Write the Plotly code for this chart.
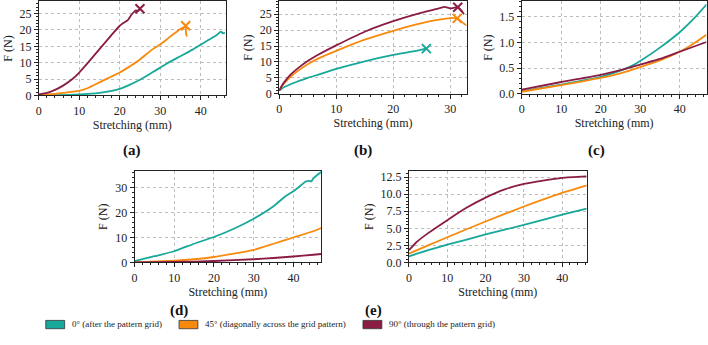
import plotly.graph_objects as go

# ---------------- data ----------------
series_names = ["0° (after the pattern grid)",
                "45° (diagonally across the grid pattern)",
                "90° (through the pattern grid)"]
series_colors = ["#17A89A", "#F7890C", "#8A1C46"]
panel_labels = ["(a)", "(b)", "(c)", "(d)", "(e)"]

# panel (a)
a_teal_x = [0, 5, 10, 13, 15, 18, 20, 22, 25, 28, 30, 32, 35, 38, 40, 42, 44, 45, 45.5, 46]
a_teal_y = [0, 0.1, 0.3, 0.55, 0.8, 1.4, 2.0, 3.0, 4.8, 7.0, 8.5, 10.0, 12.0, 14.0, 15.5, 17.0, 18.5, 19.5, 19.0, 19.2]
a_orange_x = [0, 3, 6, 10, 12, 15, 18, 20, 22, 25, 28, 30, 32, 34, 35, 36, 36.3, 36.4, 36.6]
a_orange_y = [0.2, 0.4, 0.8, 1.4, 2.2, 4.0, 5.8, 7.0, 8.5, 11.0, 14.0, 15.6, 17.5, 19.4, 20.3, 20.9, 21.3, 19.0, 18.0]
a_purple_x = [0, 2, 4, 6, 8, 10, 12, 14, 16, 18, 20, 21, 22, 23, 24, 24.5, 25]
a_purple_y = [0.3, 0.8, 1.7, 3.0, 4.7, 7.0, 9.8, 12.7, 15.6, 18.5, 21.3, 22.2, 23.0, 24.8, 26.0, 25.8, 26.5]
a_break_x = [None, 36.3, 25]
a_break_y = [None, 21.3, 26.5]

# panel (b)
b_teal_x = [0, 0.5, 1, 2, 3, 5, 7, 10, 15, 20, 24, 25.8]
b_teal_y = [1.0, 1.7, 2.2, 3.0, 3.7, 5.0, 6.1, 7.8, 10.2, 12.2, 13.5, 14.2]
b_orange_x = [0, 0.5, 1, 2, 3, 5, 7, 10, 15, 20, 25, 28, 30, 31.2, 32.0, 32.8]
b_orange_y = [1.0, 2.4, 3.5, 5.3, 6.8, 9.3, 11.2, 13.5, 17.0, 19.8, 22.2, 23.3, 23.8, 23.7, 22.6, 21.5]
b_purple_x = [0, 0.5, 1, 2, 3, 5, 7, 10, 15, 20, 25, 28, 29, 30, 31.3, 32.0, 32.4]
b_purple_y = [1.0, 2.6, 3.9, 6.0, 7.6, 10.3, 12.4, 15.2, 19.5, 22.8, 25.5, 26.8, 27.3, 26.8, 27.2, 26.0, 25.0]
b_break_x = [25.8, 31.2, 31.3]
b_break_y = [14.2, 23.7, 27.2]

# panel (c)
c_teal_x = [0, 10, 20, 25, 28, 30, 35, 40, 44, 46.8]
c_teal_y = [0.05, 0.18, 0.33, 0.45, 0.55, 0.64, 0.90, 1.20, 1.50, 1.74]
c_orange_x = [0, 10, 20, 25, 30, 35, 40, 43, 46.8]
c_orange_y = [0.04, 0.17, 0.31, 0.40, 0.52, 0.65, 0.82, 0.95, 1.15]
c_purple_x = [0, 10, 20, 26, 30, 35, 40, 46.8]
c_purple_y = [0.08, 0.23, 0.37, 0.48, 0.57, 0.68, 0.82, 1.01]

# panel (d)
d_teal_x = [0, 5, 10, 15, 20, 25, 30, 35, 38, 40, 42, 43, 44, 44.5, 45, 46, 47]
d_teal_y = [0.5, 2.5, 4.5, 7.5, 10.2, 13.5, 17.5, 22.5, 26.5, 28.5, 31.0, 32.3, 32.6, 32.4, 33.6, 35.0, 36.2]
d_orange_x = [0, 10, 15, 20, 25, 30, 35, 40, 45, 47]
d_orange_y = [0, 0.7, 1.3, 2.2, 3.5, 5.0, 7.5, 10.0, 12.5, 13.8]
d_purple_x = [0, 10, 20, 30, 35, 40, 45, 47]
d_purple_y = [0, 0.2, 0.6, 1.3, 1.8, 2.4, 3.1, 3.4]

# panel (e)
e_teal_x = [0, 5, 10, 20, 30, 40, 46.4]
e_teal_y = [0.9, 1.8, 2.6, 4.1, 5.5, 7.0, 7.9]
e_orange_x = [0, 5, 10, 20, 30, 40, 46.4]
e_orange_y = [1.3, 2.5, 3.7, 6.0, 8.2, 10.2, 11.3]
e_purple_x = [0, 2, 5, 10, 15, 20, 25, 30, 35, 40, 46.4]
e_purple_y = [1.8, 3.0, 4.3, 6.2, 8.0, 9.5, 10.7, 11.5, 12.0, 12.4, 12.6]

# axis settings per panel
x_ranges = [[0, 46.2], [0, 32.9], [0, 46.8], [0, 47], [0, 46.4]]
y_ranges = [[0, 28.7], [0, 29.0], [0, 1.8], [0, 36.6], [0, 13.4]]
y_dticks = [5, 5, 0.5, 10, 2.5]
y_minor = [1, 1, 0.1, 2, 0.5]
y_formats = ["d", "d", ".1f", "d", ".1f"]

# ---------------- figure ----------------
W, H = 708, 345
FONT = "Liberation Serif"

# plot-area boxes in pixels: left, right, top, bottom
boxes = [(36, 224, 0.5, 96.7), (277.7, 466.5, 0.5, 95.0), (521.7, 707.5, 0.5, 95.0),
         (132.3, 320, 174, 267.7), (408.3, 587, 174, 267.7)]
# bottom edge of each panel label (px)
label_pos = [(130, 163), (362, 163), (597, 163), (177, 327), (373, 327)]

panels = [
    [(a_teal_x, a_teal_y), (a_orange_x, a_orange_y), (a_purple_x, a_purple_y)],
    [(b_teal_x, b_teal_y), (b_orange_x, b_orange_y), (b_purple_x, b_purple_y)],
    [(c_teal_x, c_teal_y), (c_orange_x, c_orange_y), (c_purple_x, c_purple_y)],
    [(d_teal_x, d_teal_y), (d_orange_x, d_orange_y), (d_purple_x, d_purple_y)],
    [(e_teal_x, e_teal_y), (e_orange_x, e_orange_y), (e_purple_x, e_purple_y)],
]
breaks = {0: (a_break_x, a_break_y), 1: (b_break_x, b_break_y)}

fig = go.Figure()
layout = dict(width=W, height=H, margin=dict(l=0, r=0, t=0, b=0),
              paper_bgcolor="white", plot_bgcolor="white", showlegend=False,
              font=dict(family=FONT, size=12, color="#222"))
annotations = []
shapes = []

for i, (series, box) in enumerate(zip(panels, boxes)):
    n = "" if i == 0 else str(i + 1)
    xa, ya = "x" + n, "y" + n
    for (xs, ys), col in zip(series, series_colors):
        fig.add_trace(go.Scatter(x=xs, y=ys, mode="lines", xaxis=xa, yaxis=ya,
                                 line=dict(color=col, width=1.8, shape="spline", smoothing=0.5),
                                 hoverinfo="skip"))
    if i in breaks:
        bx, by = breaks[i]
        for xv, yv, col in zip(bx, by, series_colors):
            if xv is None:
                continue
            fig.add_trace(go.Scatter(x=[xv], y=[yv], mode="markers", xaxis=xa, yaxis=ya,
                                     marker=dict(symbol="x-thin", size=9, color=col,
                                                 line=dict(width=2, color=col)),
                                     hoverinfo="skip", cliponaxis=False))
    l, r, t, b = box
    common = dict(showline=True, linecolor="#222", linewidth=1, mirror=True,
                  showgrid=True, gridcolor="#bdbdbd", griddash="dot", gridwidth=1,
                  zeroline=False, ticks="outside", ticklen=4, tickcolor="#222",
                  tickfont=dict(family=FONT, size=12, color="#222"))
    layout["xaxis" + n] = dict(common, domain=[l / W, r / W], anchor=ya,
                               range=x_ranges[i], dtick=10, tick0=0,
                               minor=dict(dtick=2, ticks="outside", ticklen=2, tickcolor="#222", showgrid=False),
                               title=dict(text="Stretching (mm)", standoff=3,
                                          font=dict(family=FONT, size=12, color="#222")))
    layout["yaxis" + n] = dict(common, domain=[1 - b / H, 1 - t / H], anchor=xa,
                               range=y_ranges[i], dtick=y_dticks[i], tick0=0,
                               tickformat=y_formats[i],
                               minor=dict(dtick=y_minor[i], ticks="outside", ticklen=2, tickcolor="#222", showgrid=False),
                               title=dict(text="F (N)", standoff=4,
                                          font=dict(family=FONT, size=12, color="#222")))
    lx, ly = label_pos[i]
    annotations.append(dict(text="<b>" + panel_labels[i] + "</b>", x=lx / W, y=1 - ly / H,
                            xref="paper", yref="paper", showarrow=False,
                            font=dict(family=FONT, size=15, color="#111"),
                            xanchor="center", yanchor="bottom", borderpad=0))

# custom legend
leg_swatch_x = [43, 177, 362]
for name, col, sx in zip(series_names, series_colors, leg_swatch_x):
    shapes.append(dict(type="rect", xref="paper", yref="paper",
                       x0=sx / W, x1=(sx + 19) / W, y0=1 - 335.5 / H, y1=1 - 327 / H,
                       fillcolor=col, line=dict(color="#333", width=0.8)))
    annotations.append(dict(text=name, x=(sx + 25) / W, y=1 - 337 / H, xref="paper", yref="paper",
                            showarrow=False, xanchor="left", yanchor="bottom", borderpad=0,
                            font=dict(family=FONT, size=9, color="#222")))

layout["annotations"] = annotations
layout["shapes"] = shapes
fig.update_layout(**layout)
fig.write_html("out.html")
